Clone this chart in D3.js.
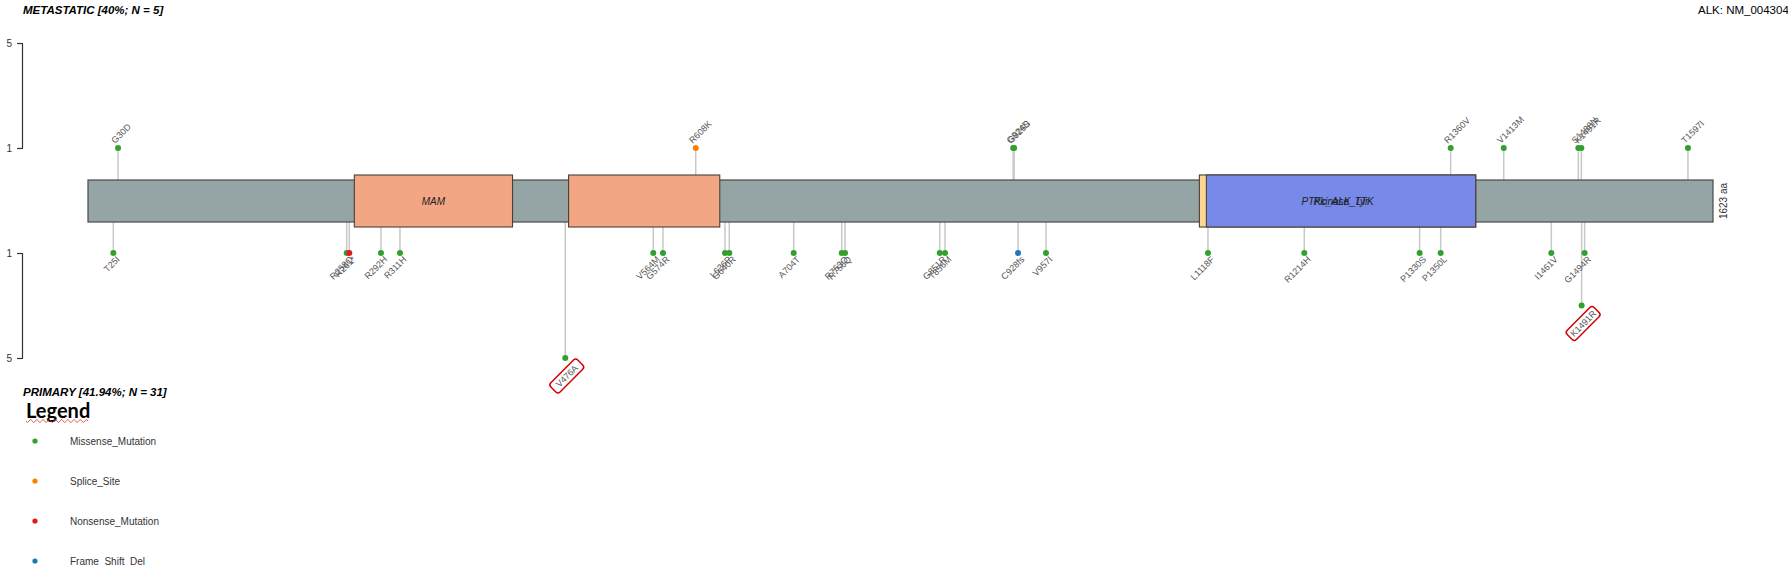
<!DOCTYPE html>
<html><head><meta charset="utf-8">
<script src="https://cdn.jsdelivr.net/npm/d3@7"></script>
<style>
html,body{margin:0;padding:0;background:#fff;overflow:hidden;}
svg{display:block;font-family:"Liberation Sans",Arial,sans-serif;}
</style></head>
<body>
<svg id="chart" width="1788" height="566"></svg>
<script>
// ---------- data ----------
const proteinLength = 1623;
const geneTitle = "ALK: NM_004304";
const topTitle = "METASTATIC [40%; N = 5]";
const bottomTitle = "PRIMARY [41.94%; N = 31]";

const domainNames  = ["MAM", "MAM", "PTKc_ALK_LTK", "Pkinase_Tyr"];
const domainStarts = [266, 480, 1110, 1117];
const domainEnds   = [424, 631, 1386, 1386];
const domainColors = ["#F2A684", "#F2A684", "#FCD78F", "#7789E9"];
const domainShowLabel = [true, false, true, true];

const topLabels = ["G30D", "R608K", "G924D", "G926S", "R1360V", "V1413M", "S1488N", "K1491R", "T1597I"];
const topPos    = [30, 607, 924, 925, 1361, 1414, 1488.5, 1491.5, 1598];
const topCount  = [1, 1, 1, 1, 1, 1, 1, 1, 1];
const topClass  = ["Missense_Mutation", "Splice_Site", "Missense_Mutation", "Missense_Mutation", "Missense_Mutation", "Missense_Mutation", "Missense_Mutation", "Missense_Mutation", "Missense_Mutation"];

const botLabels = ["T25I", "R258Q", "R261*", "R292H", "R311H", "V476A", "V564M", "G574R", "L636P", "G640R", "A704T", "R753Q", "R756Q", "G851R", "T856M", "C928fs", "V957I", "L1118F", "R1214H", "P1330S", "P1350L", "I1461V", "K1491R", "G1494R"];
const botPos    = [25.3, 258.4, 261, 292.6, 311.6, 476.7, 564.6, 574.3, 636.2, 640.5, 704.8, 752.8, 756.1, 850.7, 856, 928.9, 956.8, 1118.6, 1214.8, 1330, 1351, 1461.5, 1491.8, 1494.8];
const botCount  = [1, 1, 1, 1, 1, 5, 1, 1, 1, 1, 1, 1, 1, 1, 1, 1, 1, 1, 1, 1, 1, 1, 3, 1];
const botClass  = ["Missense_Mutation", "Missense_Mutation", "Nonsense_Mutation", "Missense_Mutation", "Missense_Mutation", "Missense_Mutation", "Missense_Mutation", "Missense_Mutation", "Missense_Mutation", "Missense_Mutation", "Missense_Mutation", "Missense_Mutation", "Missense_Mutation", "Missense_Mutation", "Missense_Mutation", "Frame_Shift_Del", "Missense_Mutation", "Missense_Mutation", "Missense_Mutation", "Missense_Mutation", "Missense_Mutation", "Missense_Mutation", "Missense_Mutation", "Missense_Mutation"];
const highlighted = ["V476A", "K1491R"];

const yTicks = [1, 5];
const legendClasses = ["Missense_Mutation", "Splice_Site", "Nonsense_Mutation", "Frame_Shift_Del"];
const legendColors  = ["#33A02C", "#FF7F00", "#E31A1C", "#1F78B4"];

// ---------- layout ----------
const svg = d3.select("#chart");
const x = d3.scaleLinear().domain([0, proteinLength]).range([88, 1713]);
const yTop = d3.scaleLinear().domain([1, 5]).range([148, 43]);
const yBot = d3.scaleLinear().domain([1, 5]).range([253, 358]);
const color = d3.scaleOrdinal().domain(legendClasses).range(legendColors);
const barTop = 180, barBot = 222, barMid = 201, domTop = 175, domBot = 227;

const topData = topLabels.map((l, i) => ({label: l, pos: topPos[i], count: topCount[i], cls: topClass[i]}));
const botData = botLabels.map((l, i) => ({label: l, pos: botPos[i], count: botCount[i], cls: botClass[i]}));

// titles
svg.append("text").attr("x", 23).attr("y", 13.5).attr("font-size", 11.5)
  .attr("font-weight", "bold").attr("font-style", "italic").attr("fill", "#000").text(topTitle);
svg.append("text").attr("x", 1698).attr("y", 13.5).attr("font-size", 11.5)
  .attr("fill", "#000").text(geneTitle);
svg.append("text").attr("x", 23).attr("y", 396).attr("font-size", 11.5)
  .attr("font-weight", "bold").attr("font-style", "italic").attr("fill", "#000").text(bottomTitle);

// axes
function styleAxis(g) {
  g.select(".domain").attr("stroke", "#333").attr("stroke-width", 1.2);
  g.selectAll(".tick line").attr("stroke", "#333").attr("stroke-width", 1.2);
  g.selectAll(".tick text").attr("font-size", 10).attr("fill", "#333")
    .attr("font-family", "Liberation Sans, Arial, sans-serif");
}
svg.append("g").attr("transform", "translate(22,0)")
  .call(d3.axisLeft(yTop).tickValues(yTicks).tickSize(5).tickSizeOuter(5).tickPadding(5).tickFormat(d3.format("d")))
  .call(styleAxis);
svg.append("g").attr("transform", "translate(22,0)")
  .call(d3.axisLeft(yBot).tickValues(yTicks).tickSize(5).tickSizeOuter(5).tickPadding(5).tickFormat(d3.format("d")))
  .call(styleAxis);

// stems
const stems = svg.append("g").attr("stroke", "#C8C8C8").attr("stroke-width", 1.5);
stems.selectAll(".st").data(topData).join("line")
  .attr("x1", d => x(d.pos)).attr("x2", d => x(d.pos))
  .attr("y1", barMid).attr("y2", d => yTop(d.count));
stems.selectAll(".sb").data(botData).join("line")
  .attr("x1", d => x(d.pos)).attr("x2", d => x(d.pos))
  .attr("y1", barMid).attr("y2", d => yBot(d.count));

// protein bar
svg.append("rect").attr("x", x(0)).attr("y", barTop)
  .attr("width", x(proteinLength) - x(0)).attr("height", barBot - barTop)
  .attr("fill", "#95A5A6").attr("stroke", "#4a4a4a").attr("stroke-width", 1.2);

// domains
const domData = domainNames.map((n, i) => ({name: n, s: domainStarts[i], e: domainEnds[i], c: domainColors[i], show: domainShowLabel[i]}));
svg.append("g").selectAll("rect").data(domData).join("rect")
  .attr("x", d => x(d.s)).attr("y", domTop)
  .attr("width", d => x(d.e) - x(d.s)).attr("height", domBot - domTop)
  .attr("fill", d => d.c).attr("stroke", "#4a4038").attr("stroke-width", 1.1);
svg.append("g").selectAll("text").data(domData.filter(d => d.show)).join("text")
  .attr("x", d => (x(d.s) + x(d.e)) / 2)
  .attr("y", barMid + 3.5).attr("text-anchor", "middle")
  .attr("font-size", 10).attr("font-style", "italic").attr("fill", "#222")
  .text(d => d.name);

// length label
svg.append("text").attr("transform", `translate(${x(proteinLength) + 14},${barMid}) rotate(-90)`)
  .attr("text-anchor", "middle").attr("font-size", 10).attr("fill", "#333")
  .text(proteinLength + " aa");

// points
svg.append("g").selectAll("circle").data(topData).join("circle")
  .attr("cx", d => x(d.pos)).attr("cy", d => yTop(d.count)).attr("r", 3)
  .attr("fill", d => color(d.cls));
svg.append("g").selectAll("circle").data(botData).join("circle")
  .attr("cx", d => x(d.pos)).attr("cy", d => yBot(d.count)).attr("r", 3)
  .attr("fill", d => color(d.cls));

// labels
svg.append("g").selectAll("text").data(topData).join("text")
  .attr("transform", d => `translate(${x(d.pos) - 3},${yTop(d.count) - 4}) rotate(-45)`)
  .attr("font-size", 9).attr("fill", "#555").text(d => d.label);

const plain = botData.filter(d => !highlighted.includes(d.label));
svg.append("g").selectAll("text").data(plain).join("text")
  .attr("transform", d => `translate(${x(d.pos) + 7},${yBot(d.count) + 7}) rotate(-45)`)
  .attr("text-anchor", "end").attr("font-size", 9).attr("fill", "#555").text(d => d.label);

const boxed = botData.filter(d => highlighted.includes(d.label));
const bg = svg.append("g").selectAll("g").data(boxed).join("g")
  .attr("transform", d => `translate(${x(d.pos) + 1.5},${yBot(d.count) + 18}) rotate(-45)`);
bg.append("rect").attr("x", -19).attr("y", -6.5).attr("width", 38).attr("height", 13).attr("rx", 3)
  .attr("fill", "#fff").attr("stroke", "#D40000").attr("stroke-width", 1.5);
bg.append("text").attr("text-anchor", "middle").attr("y", 3.2)
  .attr("font-size", 9).attr("fill", "#555").text(d => d.label);

// legend
svg.append("text").attr("x", 26).attr("y", 418).attr("font-size", 20)
  .attr("font-weight", "bold").attr("font-family", "Lato, 'Open Sans', sans-serif")
  .attr("fill", "#000").text("Legend");
let wave = "M26,421";
for (let i = 0; i < 20; i++) wave += ` l1.55,${i % 2 ? -1.6 : 1.6} l1.55,${i % 2 ? 1.6 : -1.6}`;
svg.append("path").attr("d", wave).attr("fill", "none").attr("stroke", "#E03030").attr("stroke-width", 0.8);

const lg = svg.append("g").selectAll("g").data(legendClasses).join("g")
  .attr("transform", (d, i) => `translate(35,${441 + i * 40})`);
lg.append("circle").attr("r", 2.6).attr("fill", d => color(d));
lg.append("text").attr("x", 35).attr("y", 3.5).attr("font-size", 10).attr("fill", "#333").text(d => d);
</script>
</body></html>
